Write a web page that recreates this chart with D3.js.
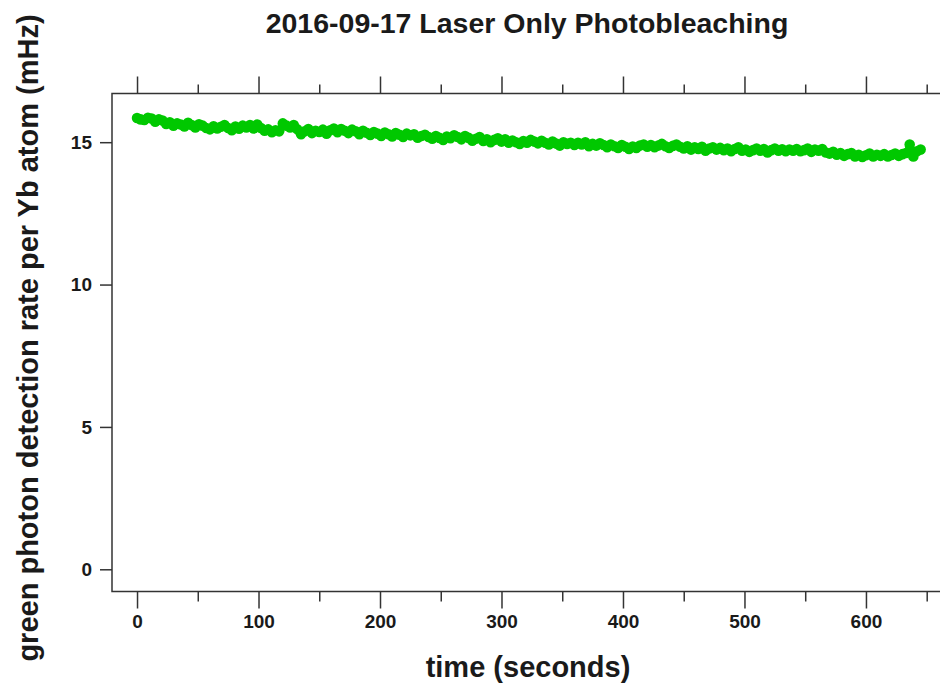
<!DOCTYPE html>
<html>
<head>
<meta charset="utf-8">
<script src="https://cdn.jsdelivr.net/npm/d3@7"></script>
<style>
  body { margin: 0; background: #fff; }
  svg text { font-family: "Liberation Sans", Arial, sans-serif; font-weight: bold; fill: #1a1a1a; }
</style>
</head>
<body>
<svg id="chartSvg" width="940" height="685"></svg>
<script>
var chartTitle = "2016-09-17 Laser Only Photobleaching";
var xLabel = "time (seconds)";
var yLabel = "green photon detection rate per Yb atom (mHz)";
var xTicks = [0, 100, 200, 300, 400, 500, 600];
var xMinorTicks = [50, 150, 250, 350, 450, 550, 650];
var yTicks = [0, 5, 10, 15];
var sampleInterval = 3; // seconds between points
// rate per sample (mHz)
var rates = [
    15.85, 15.80, 15.78, 15.86, 15.83, 15.72, 15.80, 15.76, 15.64, 15.70,
    15.58, 15.66, 15.62, 15.55, 15.68, 15.60, 15.52, 15.63, 15.58, 15.50,
    15.45, 15.56, 15.48, 15.54, 15.60, 15.50, 15.42, 15.55, 15.47, 15.58,
    15.52, 15.60, 15.48, 15.62, 15.50, 15.40, 15.45, 15.35, 15.42, 15.38,
    15.66, 15.58, 15.52, 15.60, 15.45, 15.28, 15.38, 15.46, 15.32, 15.40,
    15.36, 15.44, 15.30, 15.42, 15.48, 15.35, 15.46, 15.40, 15.32, 15.44,
    15.38, 15.28, 15.40, 15.33, 15.25, 15.36, 15.30, 15.22, 15.34, 15.28,
    15.20, 15.32, 15.26, 15.18, 15.30, 15.24, 15.28, 15.16, 15.22, 15.26,
    15.18, 15.12, 15.22, 15.15, 15.08, 15.20, 15.14, 15.24, 15.18, 15.10,
    15.22, 15.15, 15.05, 15.12, 15.18, 15.04, 15.10, 15.00, 15.08, 15.14,
    15.02, 15.10, 14.98, 15.06, 15.00, 14.94, 15.04, 14.98, 15.08, 15.02,
    14.96, 15.05, 14.98, 14.92, 15.02, 14.95, 14.88, 15.00, 14.94, 14.98,
    14.90, 14.98, 14.92, 15.00, 14.86, 14.94, 14.88, 14.96, 14.90, 14.82,
    14.92, 14.86, 14.80, 14.90, 14.84, 14.76, 14.85, 14.80, 14.88, 14.92,
    14.84, 14.90, 14.82, 14.88, 14.94, 14.86, 14.80, 14.87, 14.92, 14.84,
    14.78, 14.86, 14.74, 14.82, 14.76, 14.84, 14.70, 14.78, 14.82, 14.74,
    14.80, 14.72, 14.78, 14.68, 14.76, 14.82, 14.70, 14.74, 14.66, 14.72,
    14.78, 14.70, 14.76, 14.64, 14.72, 14.78, 14.70, 14.75, 14.68, 14.74,
    14.70, 14.76, 14.68, 14.72, 14.78, 14.66, 14.74, 14.70, 14.76, 14.64,
    14.60, 14.66, 14.56, 14.62, 14.52, 14.58, 14.62, 14.50, 14.56, 14.48,
    14.54, 14.60, 14.50, 14.56, 14.52, 14.58, 14.50, 14.55, 14.60, 14.52,
    14.58, 14.62, 14.92, 14.50, 14.68, 14.74
];

var chart = (function () {
    var svg = d3.select("#chartSvg");
    var plotLeft = 112, plotRight = 951, plotTop = 93.5, plotBottom = 591.5;

    var xScale = d3.scaleLinear().domain([-20.6, 670]).range([plotLeft, plotRight]);
    var yScale = d3.scaleLinear().domain([-0.78, 16.71]).range([plotBottom, plotTop]);

    var points = rates.map(function (d, i) {
        return { t: i * sampleInterval, v: d };
    });

    //坐标轴
    var axisColor = "#333";
    var xAxisBottom = d3.axisBottom(xScale).tickValues(xTicks).tickSize(17).tickPadding(6).tickFormat(d3.format("d"));
    var xMinorBottom = d3.axisBottom(xScale).tickValues(xMinorTicks).tickSize(10).tickFormat("");
    var xAxisTop = d3.axisTop(xScale).tickValues(xTicks).tickSize(17).tickFormat("");
    var xMinorTop = d3.axisTop(xScale).tickValues(xMinorTicks).tickSize(9).tickFormat("");
    var yAxis = d3.axisLeft(yScale).tickValues(yTicks).tickSize(12).tickPadding(8).tickFormat(d3.format("d"));

    function styleAxis(g) {
        g.select(".domain").remove();
        g.selectAll(".tick line").attr("stroke", axisColor).attr("stroke-width", 1.5);
        g.selectAll(".tick text").style("font-size", "19px").attr("fill", "#1a1a1a");
    }

    svg.append("g").attr("transform", "translate(0," + plotBottom + ")").call(xAxisBottom).call(styleAxis);
    svg.append("g").attr("transform", "translate(0," + plotBottom + ")").call(xMinorBottom).call(styleAxis);
    svg.append("g").attr("transform", "translate(0," + plotTop + ")").call(xAxisTop).call(styleAxis);
    svg.append("g").attr("transform", "translate(0," + plotTop + ")").call(xMinorTop).call(styleAxis);
    svg.append("g").attr("transform", "translate(" + plotLeft + ",0)").call(yAxis).call(styleAxis);

    // frame
    svg.append("rect")
        .attr("x", plotLeft).attr("y", plotTop)
        .attr("width", plotRight - plotLeft).attr("height", plotBottom - plotTop)
        .attr("fill", "none").attr("stroke", axisColor).attr("stroke-width", 1.5);

    // data
    var green = "#00c800";
    var line = d3.line()
        .x(function (d) { return xScale(d.t); })
        .y(function (d) { return yScale(d.v); });
    svg.append("path").datum(points)
        .attr("d", line)
        .attr("fill", "none")
        .attr("stroke", green)
        .attr("stroke-width", 6)
        .attr("stroke-linejoin", "round");
    svg.append("g").selectAll("circle").data(points).enter()
        .append("circle")
        .attr("cx", function (d) { return xScale(d.t); })
        .attr("cy", function (d) { return yScale(d.v); })
        .attr("r", 5.3)
        .attr("fill", green);

    // labels
    svg.append("text")
        .attr("x", 527).attr("y", 33)
        .attr("text-anchor", "middle")
        .style("font-size", "28.5px")
        .text(chartTitle);
    svg.append("text")
        .attr("x", 528).attr("y", 677)
        .attr("text-anchor", "middle")
        .style("font-size", "29px")
        .text(xLabel);
    svg.append("text")
        .attr("transform", "translate(38,338) rotate(-90)")
        .attr("text-anchor", "middle")
        .style("font-size", "29px")
        .text(yLabel);

    return { svg: svg, xScale: xScale, yScale: yScale };
})();
</script>
</body>
</html>
